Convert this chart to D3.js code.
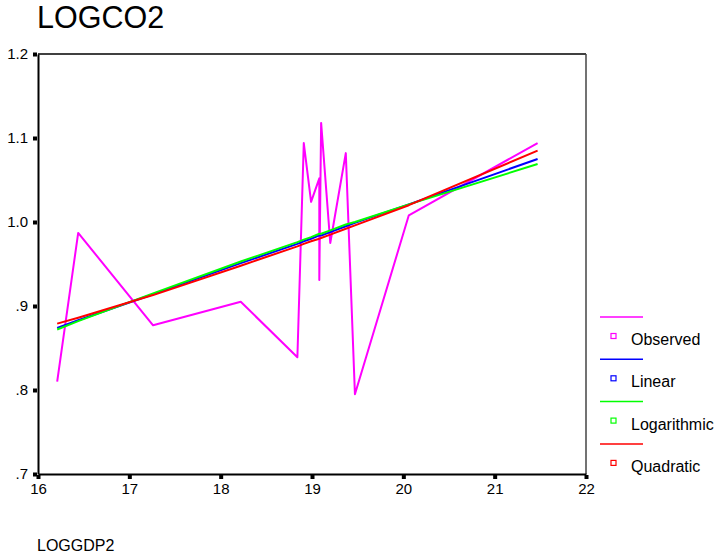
<!DOCTYPE html>
<html>
<head>
<meta charset="utf-8">
<script src="https://cdn.jsdelivr.net/npm/d3@7"></script>
<style>
  body { margin: 0; background: #fff; }
  svg { display: block; font-family: "Liberation Sans", Arial, sans-serif; }
</style>
</head>
<body>
<svg id="chart" width="717" height="555"></svg>
<script>
// values
var logGdp   = [16.21, 16.44, 17.26, 18.22, 18.84, 18.91, 18.99, 19.08, 19.08, 19.10, 19.20, 19.37, 19.47, 20.06, 21.47];
var observed = [0.810, 0.987, 0.877, 0.905, 0.839, 1.094, 1.024, 1.052, 0.931, 1.118, 0.975, 1.082, 0.795, 1.008, 1.094];
var linear   = [0.874, 0.883, 0.914, 0.951, 0.974, 0.977, 0.980, 0.984, 0.984, 0.984, 0.988, 0.995, 0.999, 1.021, 1.075];
var logarithmic = [0.872, 0.882, 0.915, 0.953, 0.976, 0.979, 0.982, 0.986, 0.986, 0.986, 0.990, 0.997, 1.000, 1.021, 1.069];
var quadratic = [0.879, 0.886, 0.913, 0.948, 0.971, 0.974, 0.977, 0.980, 0.980, 0.981, 0.985, 0.992, 0.996, 1.020, 1.085];

var seriesNames = ["Observed", "Linear", "Logarithmic", "Quadratic"];
var seriesColors = ["#ff00ff", "#0000ff", "#00ff00", "#ff0000"];
var xTicks = [16, 17, 18, 19, 20, 21, 22];
var yTicks = [0.7, 0.8, 0.9, 1.0, 1.1, 1.2];
var yTickLabels = [".7", ".8", ".9", "1.0", "1.1", "1.2"];

var margin = {top: 54, left: 38},
    width = 548, height = 420;

var svg = d3.select("#chart");

var x = d3.scaleLinear().domain([16, 22]).range([0, width]);
var y = d3.scaleLinear().domain([0.7, 1.2]).range([height, 0]);

//Title and x label
svg.append("text").attr("x", 37).attr("y", 28)
  .style("font-size", "30.5px").text("LOGCO2");
svg.append("text").attr("x", 37).attr("y", 551)
  .style("font-size", "16px").text("LOGGDP2");

var g = svg.append("g")
  .attr("transform", "translate(" + margin.left + "," + margin.top + ")");

//Frame (top and right)
g.append("line").attr("x1", 0).attr("x2", width).attr("y1", 0).attr("y2", 0)
  .style("stroke", "#000").style("stroke-width", 1.5);
g.append("line").attr("x1", width).attr("x2", width).attr("y1", 0).attr("y2", height)
  .style("stroke", "#444").style("stroke-width", 1.5);

//Axes with square tick marks
var yAxis = d3.axisLeft(y).tickValues(yTicks).tickSize(0).tickPadding(10)
  .tickFormat(function(d, i){ return yTickLabels[i]; });
var yg = g.append("g").call(yAxis);
yg.select(".domain").style("stroke", "#000").style("stroke-width", 2);
yg.selectAll("text").style("font-size", "15px").style("font-family", "Liberation Sans, Arial, sans-serif").attr("fill", "#000");
yg.selectAll(".tick").append("rect").attr("x", -5).attr("y", -2).attr("width", 4).attr("height", 4).attr("fill", "#000");

var xAxis = d3.axisBottom(x).tickValues(xTicks).tickSize(0).tickPadding(9)
  .tickFormat(d3.format("d"));
var xg = g.append("g").attr("transform", "translate(0," + height + ")").call(xAxis);
xg.select(".domain").style("stroke", "#000").style("stroke-width", 2);
xg.selectAll("text").style("font-size", "15px").style("font-family", "Liberation Sans, Arial, sans-serif").attr("fill", "#000");
xg.selectAll(".tick").append("rect").attr("x", -2).attr("y", 1).attr("width", 4).attr("height", 4).attr("fill", "#000");

//Lines
var line = d3.line()
  .x(function(d){ return x(d[0]); })
  .y(function(d){ return y(d[1]); });

[observed, linear, logarithmic, quadratic].forEach(function(vals, i){
  g.append("path")
    .datum(logGdp.map(function(v, j){ return [v, vals[j]]; }))
    .attr("d", line)
    .style("fill", "none")
    .style("stroke", seriesColors[i])
    .style("stroke-width", 2)
    .style("stroke-linejoin", "round");
});

//Legend
var legend = svg.append("g").attr("transform", "translate(600,317)");
seriesNames.forEach(function(name, i){
  var ly = i * 42.3;
  legend.append("line").attr("x1", 0).attr("x2", 43).attr("y1", ly).attr("y2", ly)
    .style("stroke", seriesColors[i]).style("stroke-width", 1.5);
  legend.append("rect").attr("x", 11).attr("y", ly + 16.5).attr("width", 5).attr("height", 5)
    .style("fill", "#fff").style("stroke", seriesColors[i]).style("stroke-width", 1.2);
  legend.append("text").attr("x", 31).attr("y", ly + 28)
    .style("font-size", "16px").text(name);
});
</script>
</body>
</html>
